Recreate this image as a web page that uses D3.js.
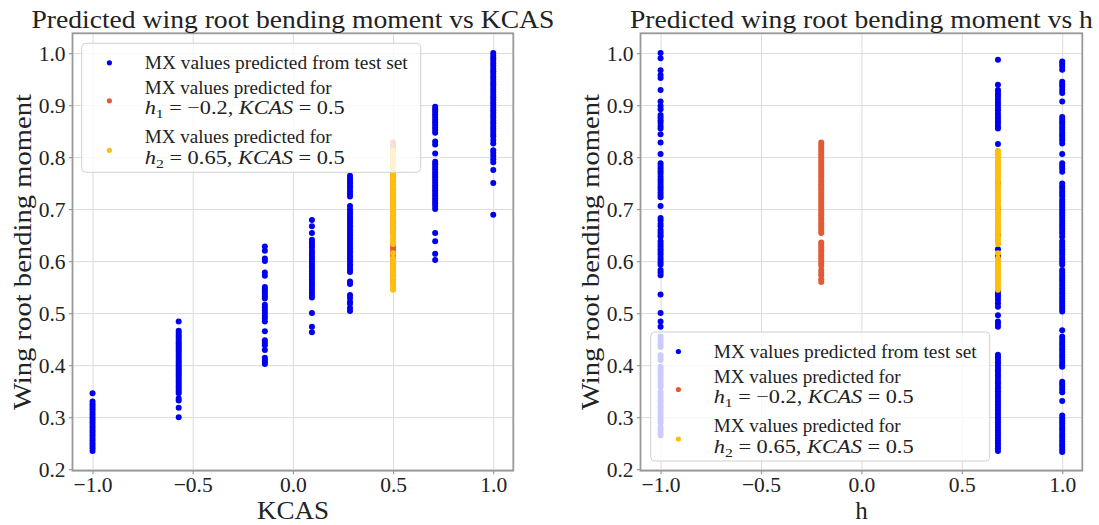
<!DOCTYPE html>
<html><head><meta charset="utf-8">
<script src="https://cdn.jsdelivr.net/npm/d3@7"></script>
<style>
body{margin:0;background:#fff;}
svg{display:block;}
text{font-family:"Liberation Serif","Times New Roman",serif;fill:#222;}
</style></head><body>
<svg id="chart" width="1099" height="525"></svg>
<script>
// ---------------- data ----------------
const xTicks = [-1.0, -0.5, 0.0, 0.5, 1.0];
const yTicks = [0.2, 0.3, 0.4, 0.5, 0.6, 0.7, 0.8, 0.9, 1.0];

const kcasLevels = [-1.0, -0.57, -0.14, 0.095, 0.285, 0.71, 1.0];
const mxTestByKcas = [
  [0.346, 0.33, 0.325, 0.32, 0.315, 0.31, 0.305, 0.3, 0.295, 0.29, 0.285, 0.28, 0.275, 0.27, 0.265, 0.26, 0.255, 0.25, 0.245, 0.24, 0.235],
  [0.484, 0.466, 0.462, 0.458, 0.454, 0.45, 0.446, 0.442, 0.438, 0.434, 0.43, 0.426, 0.422, 0.418, 0.414, 0.41, 0.406, 0.402, 0.398, 0.394, 0.39, 0.386, 0.382, 0.378, 0.374, 0.37, 0.366, 0.362, 0.358, 0.354, 0.35, 0.346, 0.336, 0.332, 0.318, 0.3],
  [0.628, 0.62, 0.605, 0.6, 0.578, 0.572, 0.55, 0.546, 0.541, 0.537, 0.532, 0.528, 0.516, 0.511, 0.505, 0.5, 0.495, 0.49, 0.484, 0.465, 0.448, 0.443, 0.438, 0.429, 0.414, 0.41, 0.406, 0.402],
  [0.679, 0.667, 0.654, 0.641, 0.636, 0.631, 0.626, 0.62, 0.615, 0.61, 0.605, 0.6, 0.595, 0.59, 0.585, 0.58, 0.575, 0.57, 0.565, 0.56, 0.555, 0.55, 0.545, 0.54, 0.535, 0.53, 0.5, 0.474, 0.463],
  [0.764, 0.759, 0.754, 0.749, 0.744, 0.739, 0.734, 0.729, 0.724, 0.706, 0.699, 0.694, 0.689, 0.684, 0.679, 0.674, 0.669, 0.664, 0.659, 0.654, 0.649, 0.644, 0.639, 0.634, 0.629, 0.624, 0.619, 0.614, 0.609, 0.604, 0.599, 0.594, 0.589, 0.584, 0.579, 0.561, 0.556, 0.535, 0.529, 0.522, 0.518, 0.51, 0.504],
  [0.897, 0.892, 0.887, 0.882, 0.877, 0.872, 0.867, 0.862, 0.857, 0.852, 0.847, 0.83, 0.824, 0.807, 0.791, 0.786, 0.781, 0.776, 0.771, 0.766, 0.761, 0.756, 0.751, 0.746, 0.741, 0.736, 0.731, 0.726, 0.721, 0.716, 0.711, 0.706, 0.7, 0.654, 0.638, 0.614, 0.602],
  [1.0, 0.995, 0.99, 0.985, 0.98, 0.975, 0.97, 0.965, 0.96, 0.955, 0.95, 0.945, 0.94, 0.935, 0.93, 0.925, 0.92, 0.915, 0.91, 0.905, 0.9, 0.895, 0.89, 0.885, 0.88, 0.875, 0.87, 0.865, 0.86, 0.855, 0.85, 0.845, 0.84, 0.833, 0.826, 0.813, 0.808, 0.802, 0.796, 0.79, 0.775, 0.75, 0.689]
];

const hLevels = [-1.0, 0.68, 1.0];
const mxTestByH = [
  [1.0, 0.99, 0.967, 0.958, 0.952, 0.929, 0.907, 0.898, 0.892, 0.881, 0.876, 0.871, 0.866, 0.86, 0.855, 0.844, 0.828, 0.806, 0.788, 0.783, 0.778, 0.773, 0.768, 0.762, 0.757, 0.752, 0.747, 0.742, 0.737, 0.732, 0.727, 0.723, 0.706, 0.683, 0.678, 0.672, 0.667, 0.66, 0.655, 0.65, 0.647, 0.638, 0.633, 0.628, 0.623, 0.618, 0.613, 0.608, 0.603, 0.598, 0.593, 0.583, 0.578, 0.573, 0.536, 0.5, 0.484, 0.474, 0.455, 0.45, 0.445, 0.44, 0.435, 0.419, 0.414, 0.41, 0.397, 0.392, 0.387, 0.382, 0.377, 0.372, 0.367, 0.362, 0.358, 0.349, 0.344, 0.338, 0.333, 0.329, 0.324, 0.319, 0.314, 0.309, 0.304, 0.299, 0.294, 0.289, 0.281, 0.276, 0.271, 0.265],
  [0.987, 0.939, 0.929, 0.925, 0.92, 0.916, 0.91, 0.905, 0.9, 0.895, 0.89, 0.884, 0.879, 0.874, 0.869, 0.864, 0.859, 0.855, 0.825, 0.75, 0.7, 0.65, 0.623, 0.61, 0.541, 0.536, 0.531, 0.525, 0.519, 0.512, 0.496, 0.484, 0.479, 0.474, 0.42, 0.415, 0.41, 0.405, 0.4, 0.395, 0.39, 0.385, 0.38, 0.375, 0.37, 0.365, 0.36, 0.355, 0.35, 0.345, 0.34, 0.335, 0.33, 0.325, 0.32, 0.315, 0.31, 0.305, 0.3, 0.295, 0.29, 0.285, 0.28, 0.275, 0.27, 0.265, 0.26, 0.255, 0.25, 0.245, 0.24, 0.235],
  [0.984, 0.979, 0.974, 0.968, 0.945, 0.94, 0.935, 0.929, 0.923, 0.907, 0.877, 0.872, 0.867, 0.862, 0.857, 0.852, 0.847, 0.842, 0.837, 0.832, 0.826, 0.806, 0.788, 0.783, 0.778, 0.772, 0.749, 0.744, 0.739, 0.734, 0.729, 0.724, 0.718, 0.713, 0.708, 0.703, 0.698, 0.693, 0.688, 0.683, 0.678, 0.673, 0.668, 0.663, 0.658, 0.653, 0.647, 0.638, 0.633, 0.628, 0.623, 0.618, 0.613, 0.608, 0.603, 0.598, 0.593, 0.583, 0.578, 0.573, 0.568, 0.563, 0.558, 0.553, 0.548, 0.543, 0.538, 0.533, 0.528, 0.523, 0.518, 0.513, 0.508, 0.503, 0.467, 0.455, 0.45, 0.445, 0.44, 0.435, 0.43, 0.425, 0.42, 0.415, 0.41, 0.405, 0.4, 0.397, 0.368, 0.363, 0.358, 0.353, 0.348, 0.331, 0.303, 0.298, 0.293, 0.288, 0.283, 0.278, 0.274, 0.268, 0.263, 0.258, 0.253, 0.248, 0.243, 0.238, 0.233]
];

// predictions for h1 = -0.2, KCAS = 0.5
const h1Pos = -0.2, kcas1Pos = 0.5;
const mxPredH1 = [0.828, 0.823, 0.818, 0.813, 0.808, 0.803, 0.798, 0.793, 0.788, 0.783, 0.778, 0.773, 0.768, 0.763, 0.758, 0.753, 0.748, 0.743, 0.738, 0.733, 0.728, 0.723, 0.718, 0.713, 0.708, 0.703, 0.698, 0.693, 0.688, 0.683, 0.678, 0.673, 0.668, 0.663, 0.658, 0.654, 0.636, 0.631, 0.626, 0.621, 0.616, 0.611, 0.606, 0.601, 0.596, 0.591, 0.583, 0.578, 0.573, 0.565, 0.56];
// predictions for h2 = 0.65, KCAS = 0.5 (column drawn where it appears)
const h2Pos = 0.68, kcas2Pos = 0.5;
const mxPredH2 = [0.812, 0.807, 0.802, 0.797, 0.792, 0.787, 0.782, 0.777, 0.772, 0.767, 0.762, 0.757, 0.752, 0.747, 0.742, 0.737, 0.732, 0.727, 0.722, 0.717, 0.712, 0.707, 0.702, 0.697, 0.692, 0.687, 0.682, 0.677, 0.672, 0.667, 0.662, 0.657, 0.652, 0.647, 0.642, 0.637, 0.633, 0.615, 0.605, 0.6, 0.595, 0.59, 0.585, 0.58, 0.575, 0.57, 0.565, 0.559, 0.554, 0.549, 0.545];

const titles = ["Predicted wing root bending moment vs KCAS", "Predicted wing root bending moment vs h"];
const xLabels = ["KCAS", "h"];
const yLabel = "Wing root bending moment";
const legendLabels = ["MX values predicted from test set", "MX values predicted for", "MX values predicted for"];

const COL_BLUE = "#0000f0", COL_ORANGE = "#e35b35", COL_YELLOW = "#fcbf0e";

// ---------------- drawing ----------------
const svg = d3.select("#chart");
const axTop = 33.3, axBottom = 470.7;

function panel(opt) {
  const x = d3.scaleLinear().domain([-1.1, 1.1]).range([opt.left, opt.right]);
  const y = d3.scaleLinear().domain([0.197, 1.038]).range([axBottom, axTop]);
  const g = svg.append("g");
  const w = opt.right - opt.left, h = axBottom - axTop;

  // grid
  g.append("g").attr("transform", `translate(0,${axBottom})`)
    .call(d3.axisBottom(x).tickValues(xTicks).tickSize(-h).tickFormat(""))
    .call(s => { s.select(".domain").remove(); s.selectAll("line").attr("stroke", "#dcdcdc").attr("stroke-width", 1); });
  g.append("g").attr("transform", `translate(${opt.left},0)`)
    .call(d3.axisLeft(y).tickValues(yTicks).tickSize(-w).tickFormat(""))
    .call(s => { s.select(".domain").remove(); s.selectAll("line").attr("stroke", "#dcdcdc").attr("stroke-width", 1); });

  // points
  const pts = g.append("g");
  opt.blueLevels.forEach((lv, i) => {
    pts.selectAll(null).data(opt.blueValues[i]).join("circle")
      .attr("cx", x(lv)).attr("cy", d => y(d)).attr("r", 3).attr("fill", COL_BLUE);
  });
  pts.selectAll(null).data(mxPredH1).join("circle")
    .attr("cx", x(opt.orangePos)).attr("cy", d => y(d)).attr("r", 3).attr("fill", COL_ORANGE);
  pts.selectAll(null).data(mxPredH2).join("circle")
    .attr("cx", x(opt.yellowPos)).attr("cy", d => y(d)).attr("r", 3).attr("fill", COL_YELLOW);

  // axes
  const fmt = d3.format(".1f");
  const ax = g.append("g").attr("transform", `translate(0,${axBottom})`)
    .call(d3.axisBottom(x).tickValues(xTicks).tickSize(3.5).tickPadding(2.5).tickSizeOuter(0).tickFormat(fmt));
  const ay = g.append("g").attr("transform", `translate(${opt.left},0)`)
    .call(d3.axisLeft(y).tickValues(yTicks).tickSize(3.5).tickPadding(3.5).tickSizeOuter(0).tickFormat(fmt));
  [ax, ay].forEach(a => {
    a.select(".domain").remove();
    a.selectAll("line").attr("stroke", "#999").attr("stroke-width", 1.2);
    a.selectAll("text").attr("font-size", 21.5).attr("font-family", "Liberation Serif").attr("fill", "#222");
  });
  ax.selectAll("text").attr("dy", "0.7em");
  ay.selectAll("text").attr("dy", "0.36em");

  // spines
  g.append("rect").attr("x", opt.left).attr("y", axTop).attr("width", w).attr("height", h)
    .attr("fill", "none").attr("stroke", "#999").attr("stroke-width", 1.8);

  // title
  g.append("text").attr("x", (opt.left + opt.right) / 2).attr("y", 28)
    .attr("text-anchor", "middle").attr("font-size", 25.5)
    .attr("textLength", opt.titleLen).attr("lengthAdjust", "spacingAndGlyphs")
    .text(opt.title);
  // x label
  const xl = g.append("text").attr("x", (opt.left + opt.right) / 2).attr("y", 518.5)
    .attr("text-anchor", "middle").attr("font-size", 25).text(opt.xLabel);
  if (opt.xLabelLen) xl.attr("textLength", opt.xLabelLen).attr("lengthAdjust", "spacingAndGlyphs");
  // y label
  g.append("text").attr("transform", `translate(${opt.left - 42},${(axTop + axBottom) / 2}) rotate(-90)`)
    .attr("text-anchor", "middle").attr("font-size", 26)
    .attr("textLength", 316).attr("lengthAdjust", "spacingAndGlyphs")
    .text(yLabel);

  // legend
  const lg = g.append("g").attr("transform", `translate(${opt.legX},${opt.legY})`);
  lg.append("rect").attr("width", 339).attr("height", 129).attr("rx", 4)
    .attr("fill", "#fff").attr("fill-opacity", 0.8).attr("stroke", "#d0d0d0").attr("stroke-width", 1);
  const my = [19.5, 57.5, 107];
  const mcol = [COL_BLUE, COL_ORANGE, COL_YELLOW];
  my.forEach((yy, i) => lg.append("circle").attr("cx", 27.7).attr("cy", yy).attr("r", 2.6).attr("fill", mcol[i]));
  const lfs = 18.5;
  lg.append("text").attr("x", 63).attr("y", my[0] + 6).attr("font-size", lfs)
    .attr("textLength", 263).attr("lengthAdjust", "spacingAndGlyphs").text(legendLabels[0]);
  [[1, "1", "\u22120.2"], [2, "2", "0.65"]].forEach(([i, sub, val]) => {
    lg.append("text").attr("x", 63).attr("y", my[i] - 7).attr("font-size", lfs)
      .attr("textLength", 187).attr("lengthAdjust", "spacingAndGlyphs").text(legendLabels[i]);
    const t = lg.append("text").attr("x", 63).attr("y", my[i] + 13.5).attr("font-size", lfs)
      .attr("textLength", 200).attr("lengthAdjust", "spacingAndGlyphs");
    t.append("tspan").attr("font-style", "italic").text("h");
    t.append("tspan").attr("font-size", 13).attr("dy", 4).text(sub);
    t.append("tspan").attr("dy", -4).text(" = " + val + ", ");
    t.append("tspan").attr("font-style", "italic").text("KCAS");
    t.append("tspan").text(" = 0.5");
  });
}

panel({
  left: 72.5, right: 513.3,
  blueLevels: kcasLevels, blueValues: mxTestByKcas,
  orangePos: kcas1Pos, yellowPos: kcas2Pos,
  title: titles[0], titleLen: 523, xLabel: xLabels[0], xLabelLen: 72,
  legX: 81.7, legY: 43.3
});
panel({
  left: 640.5, right: 1082.3,
  blueLevels: hLevels, blueValues: mxTestByH,
  orangePos: h1Pos, yellowPos: h2Pos,
  title: titles[1], titleLen: 463, xLabel: xLabels[1], xLabelLen: null,
  legX: 650.7, legY: 332
});
</script>
</body></html>
